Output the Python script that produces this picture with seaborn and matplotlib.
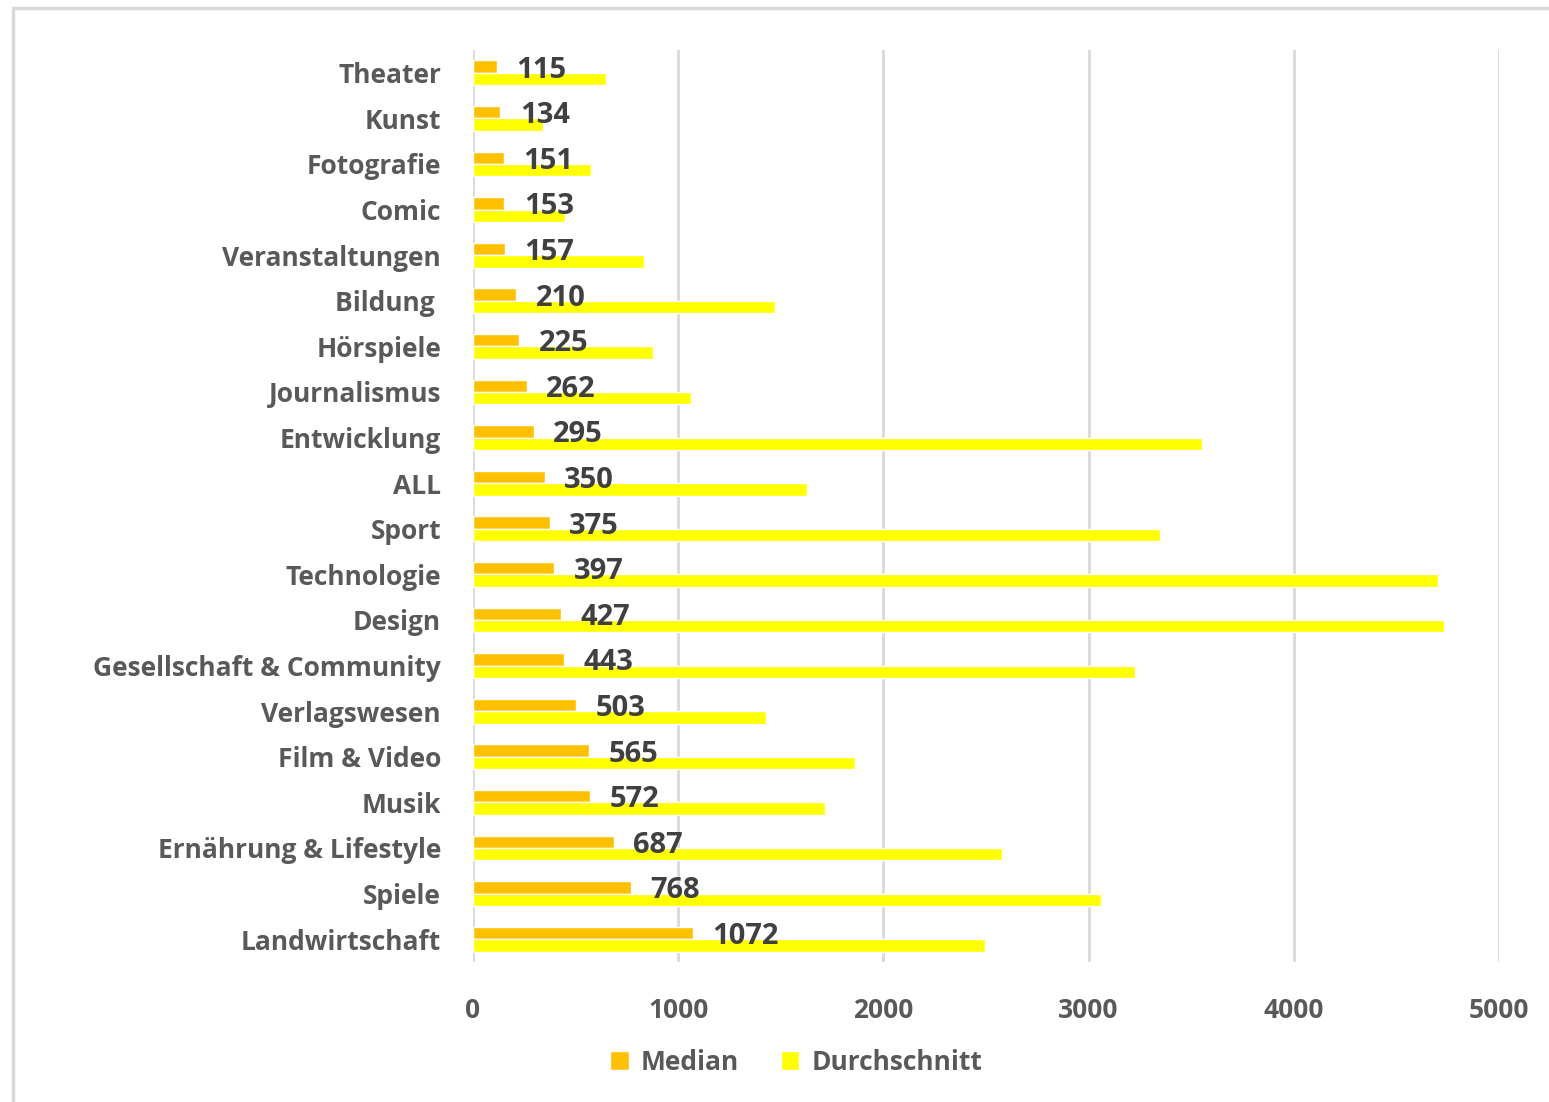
import matplotlib
matplotlib.use("Agg")
import matplotlib.pyplot as plt
import seaborn as sns
import pandas as pd
from matplotlib.patches import Rectangle

categories = ["Theater", "Kunst", "Fotografie", "Comic", "Veranstaltungen", "Bildung ",
              "Hörspiele", "Journalismus", "Entwicklung", "ALL", "Sport", "Technologie",
              "Design", "Gesellschaft & Community", "Verlagswesen", "Film & Video", "Musik",
              "Ernährung & Lifestyle", "Spiele", "Landwirtschaft"]
median = [115, 134, 151, 153, 157, 210, 225, 262, 295, 350, 375, 397, 427, 443, 503,
          565, 572, 687, 768, 1072]
durchschnitt = [650, 341, 575, 448, 833, 1472, 877, 1062, 3553, 1628, 3348, 4703,
                4732, 3226, 1428, 1862, 1715, 2578, 3060, 2495]
series_names = ["Median", "Durchschnitt"]
xticks = [0, 1000, 2000, 3000, 4000, 5000]

df = pd.DataFrame({
    "Kategorie": categories * 2,
    "Wert": median + durchschnitt,
    "Serie": [series_names[0]] * len(categories) + [series_names[1]] * len(categories),
})

sns.set_theme(style="white")
plt.rcParams["font.family"] = ["Open Sans", "DejaVu Sans"]

fig = plt.figure(figsize=(15.49, 11.02), dpi=100)
ax = fig.add_axes([473 / 1549, 1 - 962 / 1102, (1499 - 473) / 1549, (962 - 50) / 1102])

sns.barplot(data=df, y="Kategorie", x="Wert", hue="Serie", order=categories,
            hue_order=series_names, palette=["#FFC000", "#FFFF00"], width=0.54,
            orient="h", ax=ax, legend=True, saturation=1)

ax.set_xlim(0, 5000)
ax.set_xticks(xticks)
ax.set_xticklabels([str(t) for t in xticks])
ax.set_xlabel("")
ax.set_ylabel("")
for s in ax.spines.values():
    s.set_visible(False)
ax.grid(axis="x", color="#D9D9D9", linewidth=2)
ax.grid(axis="y", visible=False)
ax.set_axisbelow(True)
ax.tick_params(axis="x", length=0, pad=25, labelsize=19, labelcolor="#595959")
ax.tick_params(axis="y", length=0, pad=23, labelsize=19, labelcolor="#595959")
for lbl in ax.get_xticklabels() + ax.get_yticklabels():
    lbl.set_fontweight("bold")

texts = ax.bar_label(ax.containers[0], labels=[str(v) for v in median], padding=14,
                     fontsize=21, fontweight="bold", color="#404040")
for t in texts:
    t.set_verticalalignment("center_baseline")

leg = ax.legend(loc="center", bbox_to_anchor=(0.315, -0.11), ncol=2, frameon=False,
                fontsize=19, handlelength=0.7, handleheight=0.7, handletextpad=0.45,
                columnspacing=1.6, labelcolor="#595959")
for t in leg.get_texts():
    t.set_fontweight("bold")

fig.patches.append(Rectangle((13 / 1549, -0.01), 1.02, 1 - 8 / 1102 + 0.01,
                             transform=fig.transFigure, fill=False,
                             edgecolor="#D9D9D9", linewidth=2.5))

fig.savefig("out.png", dpi=100)
